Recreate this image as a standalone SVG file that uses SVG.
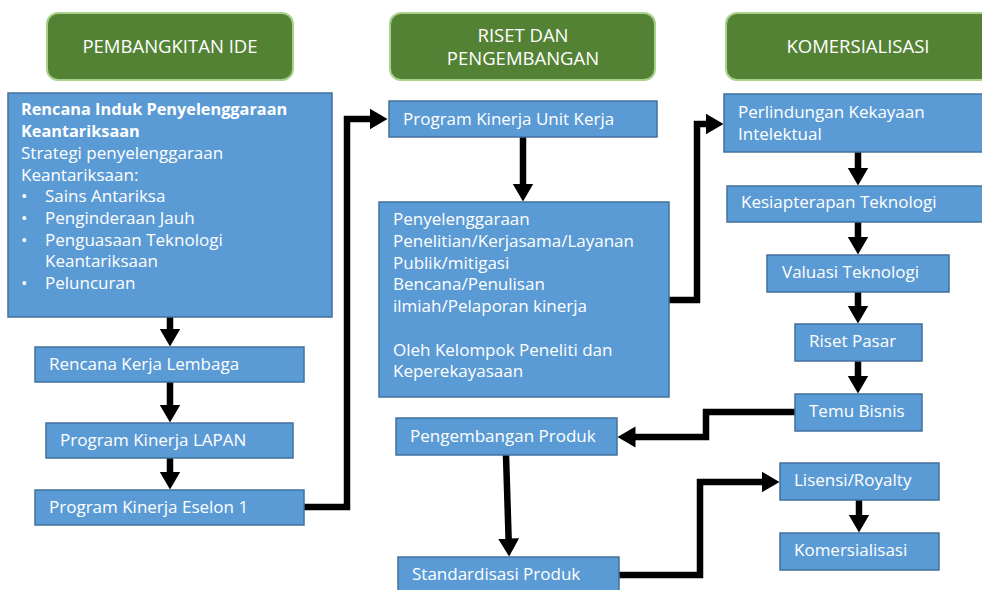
<svg xmlns="http://www.w3.org/2000/svg" width="982" height="590" viewBox="0 0 982 590">
<style>
.hdr{fill:#548235;stroke:#A9D18E;stroke-width:2}
.box{fill:#5B9BD5;stroke:#41719C;stroke-width:1.5}
.ht{font-family:"Open Sans","Noto Sans",sans-serif;font-size:18.5px;fill:#fff;text-anchor:middle}
.t{font-family:"Open Sans","Noto Sans",sans-serif;font-size:17px;fill:#fff}
.b{font-weight:bold;font-size:16.3px}
.c{fill:none;stroke:#000;stroke-width:6.5;stroke-linejoin:miter}
</style>
<defs>
<marker id="ah" markerUnits="userSpaceOnUse" markerWidth="22" markerHeight="24" viewBox="0 -12 22 24" refX="0.5" refY="0" orient="auto">
<path d="M0,-10.5 L18,0 L0,10.5 z" fill="#000"/>
</marker>
</defs>
<rect width="982" height="590" fill="#fff"/>
<g id="h1"><rect class="hdr" x="47" y="13" width="246" height="67" rx="11"/><text class="ht" x="170" y="53">PEMBANGKITAN IDE</text></g>
<g id="h2"><rect class="hdr" x="390" y="13" width="265" height="67" rx="11"/><text class="ht" x="523" y="42">RISET DAN</text><text class="ht" x="523" y="65">PENGEMBANGAN</text></g>
<g id="h3"><rect class="hdr" x="726" y="13" width="280" height="67" rx="11"/><text class="ht" x="858" y="53">KOMERSIALISASI</text></g>

<g id="connectors">
<path class="c" d="M170,317 V329" marker-end="url(#ah)"/>
<path class="c" d="M170,382 V405" marker-end="url(#ah)"/>
<path class="c" d="M170,458 V472" marker-end="url(#ah)"/>
<path class="c" d="M304,507 H347 V119 H370" marker-end="url(#ah)"/>
<path class="c" d="M523,137 V184" marker-end="url(#ah)"/>
<path class="c" d="M669,300 H697 V124 H706" marker-end="url(#ah)"/>
<path class="c" d="M858,152 V168" marker-end="url(#ah)"/>
<path class="c" d="M858,222 V237" marker-end="url(#ah)"/>
<path class="c" d="M858,292 V306" marker-end="url(#ah)"/>
<path class="c" d="M858,361 V376" marker-end="url(#ah)"/>
<path class="c" d="M795,412 H706 V437 H635" marker-end="url(#ah)"/>
<path class="c" d="M506,455 L508.6,539" marker-end="url(#ah)"/>
<path class="c" d="M619,575 H700 V482 H762" marker-end="url(#ah)"/>
<path class="c" d="M859,500 V515" marker-end="url(#ah)"/>
</g>

<g id="nA"><rect class="box" x="8" y="93" width="324" height="224"/>
<text class="t b" x="21" y="115">Rencana Induk Penyelenggaraan</text>
<text class="t b" x="21" y="137">Keantariksaan</text>
<text class="t" x="21" y="159">Strategi penyelenggaraan</text>
<text class="t" x="21" y="181">Keantariksaan:</text>
<text class="t" x="21" y="202">•</text><text class="t" x="45" y="202">Sains Antariksa</text>
<text class="t" x="21" y="224">•</text><text class="t" x="45" y="224">Penginderaan Jauh</text>
<text class="t" x="21" y="246">•</text><text class="t" x="45" y="246">Penguasaan Teknologi</text>
<text class="t" x="45" y="267">Keantariksaan</text>
<text class="t" x="21" y="289">•</text><text class="t" x="45" y="289">Peluncuran</text>
</g>
<g id="nB"><rect class="box" x="35" y="347" width="269" height="35"/><text class="t" x="49" y="370">Rencana Kerja Lembaga</text></g>
<g id="nC"><rect class="box" x="46" y="423" width="247" height="35"/><text class="t" x="60" y="446">Program Kinerja LAPAN</text></g>
<g id="nD"><rect class="box" x="35" y="490" width="269" height="35"/><text class="t" x="49" y="513">Program Kinerja Eselon 1</text></g>

<g id="nE"><rect class="box" x="389" y="101" width="268" height="36"/><text class="t" x="403" y="125">Program Kinerja Unit Kerja</text></g>
<g id="nF"><rect class="box" x="379" y="202" width="290" height="195"/>
<text class="t" x="393" y="225">Penyelenggaraan</text>
<text class="t" x="393" y="247">Penelitian/Kerjasama/Layanan</text>
<text class="t" x="393" y="269">Publik/mitigasi</text>
<text class="t" x="393" y="290">Bencana/Penulisan</text>
<text class="t" x="393" y="312">ilmiah/Pelaporan kinerja</text>
<text class="t" x="393" y="356">Oleh Kelompok Peneliti dan</text>
<text class="t" x="393" y="377">Keperekayasaan</text>
</g>
<g id="nL"><rect class="box" x="396" y="418" width="221" height="37"/><text class="t" x="410" y="442">Pengembangan Produk</text></g>
<g id="nM"><rect class="box" x="398" y="557" width="221" height="40"/><text class="t" x="412" y="580">Standardisasi Produk</text></g>

<g id="nG"><rect class="box" x="724" y="94" width="270" height="58"/>
<text class="t" x="738" y="118">Perlindungan Kekayaan</text>
<text class="t" x="738" y="140">Intelektual</text></g>
<g id="nH"><rect class="box" x="727" y="186" width="267" height="36"/><text class="t" x="741" y="208">Kesiapterapan Teknologi</text></g>
<g id="nI"><rect class="box" x="767" y="255" width="182" height="37"/><text class="t" x="782" y="278">Valuasi Teknologi</text></g>
<g id="nJ"><rect class="box" x="795" y="324" width="127" height="37"/><text class="t" x="809" y="347">Riset Pasar</text></g>
<g id="nK"><rect class="box" x="795" y="394" width="127" height="37"/><text class="t" x="809" y="417">Temu Bisnis</text></g>
<g id="nN"><rect class="box" x="780" y="463" width="159" height="37"/><text class="t" x="794" y="486">Lisensi/Royalty</text></g>
<g id="nO"><rect class="box" x="780" y="533" width="159" height="37"/><text class="t" x="794" y="556">Komersialisasi</text></g>
</svg>
